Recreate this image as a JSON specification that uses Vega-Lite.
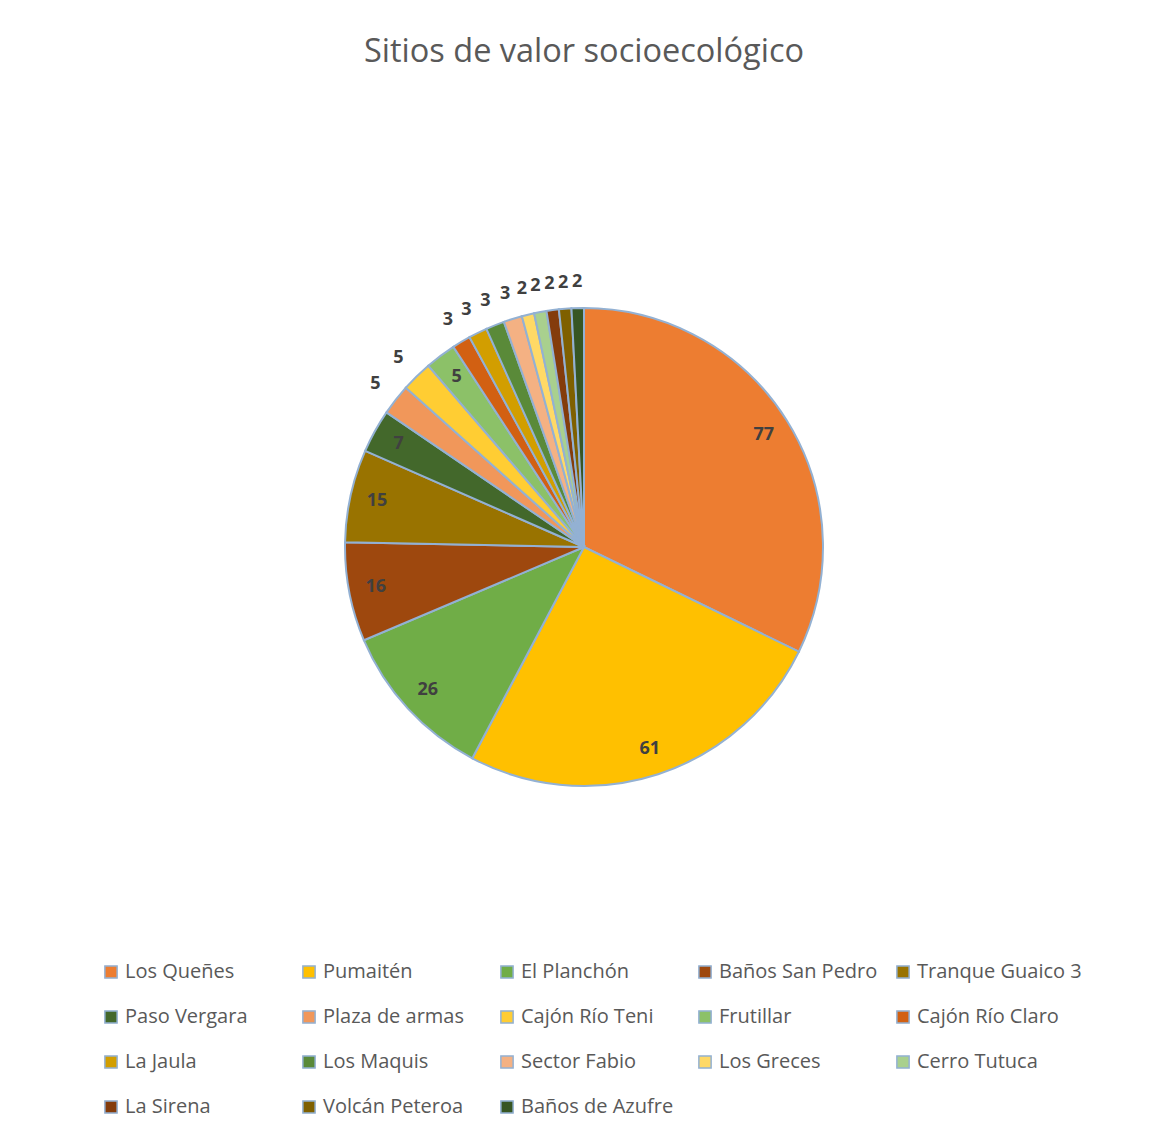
{
  "$schema": "https://vega.github.io/schema/vega-lite/v6.json",
  "autosize": "none",
  "padding": {"left": 0, "top": 0, "right": 3, "bottom": 41},
  "width": 1168,
  "height": 1094,
  "background": "white",
  "title": {
    "text": "Sitios de valor socioecológico",
    "orient": "top",
    "anchor": "middle",
    "frame": "group",
    "offset": -64,
    "dy": 30,
    "baseline": "alphabetic",
    "font": "Open Sans",
    "fontSize": 32.5,
    "fontWeight": "normal",
    "color": "#595959"
  },
  "data": {
    "values": [
      {"rank": 1, "name": "Los Queñes", "value": 77},
      {"rank": 2, "name": "Pumaitén", "value": 61},
      {"rank": 3, "name": "El Planchón", "value": 26},
      {"rank": 4, "name": "Baños San Pedro", "value": 16},
      {"rank": 5, "name": "Tranque Guaico 3", "value": 15},
      {"rank": 6, "name": "Paso Vergara", "value": 7},
      {"rank": 7, "name": "Plaza de armas", "value": 5},
      {"rank": 8, "name": "Cajón Río Teni", "value": 5},
      {"rank": 9, "name": "Frutillar", "value": 5},
      {"rank": 10, "name": "Cajón Río Claro", "value": 3},
      {"rank": 11, "name": "La Jaula", "value": 3},
      {"rank": 12, "name": "Los Maquis", "value": 3},
      {"rank": 13, "name": "Sector Fabio", "value": 3},
      {"rank": 14, "name": "Los Greces", "value": 2},
      {"rank": 15, "name": "Cerro Tutuca", "value": 2},
      {"rank": 16, "name": "La Sirena", "value": 2},
      {"rank": 17, "name": "Volcán Peteroa", "value": 2},
      {"rank": 18, "name": "Baños de Azufre", "value": 2}
    ]
  },
  "encoding": {
    "theta": {"field": "value", "type": "quantitative", "stack": true},
    "order": {"field": "rank", "type": "quantitative"}
  },
  "layer": [
    {
      "mark": {"type": "arc", "outerRadius": 239, "stroke": "#93B1D3", "strokeWidth": 2},
      "encoding": {
        "color": {
          "field": "name",
          "type": "nominal",
          "scale": {
            "domain": ["Los Queñes", "Pumaitén", "El Planchón", "Baños San Pedro", "Tranque Guaico 3", "Paso Vergara", "Plaza de armas", "Cajón Río Teni", "Frutillar", "Cajón Río Claro", "La Jaula", "Los Maquis", "Sector Fabio", "Los Greces", "Cerro Tutuca", "La Sirena", "Volcán Peteroa", "Baños de Azufre"],
            "range": ["#ED7D31", "#FFC000", "#70AD47", "#9E480E", "#997300", "#43682B", "#F1975A", "#FFCD33", "#8CC168", "#D26012", "#D29E00", "#5A8A39", "#F4B183", "#FFD966", "#A9D08E", "#843C0C", "#7F6000", "#375623"]
          },
          "legend": {
            "title": null,
            "orient": "none",
            "legendX": 101,
            "legendY": 962,
            "direction": "horizontal",
            "columns": 5,
            "gridAlign": "all",
            "columnPadding": 9,
            "rowPadding": 25,
            "symbolType": "square",
            "symbolSize": 150,
            "symbolStrokeColor": "#93B1D3",
            "symbolStrokeWidth": 1.5,
            "labelFont": "Open Sans",
            "labelFontSize": 20,
            "labelColor": "#595959",
            "labelOffset": 4,
            "labelLimit": 300
          }
        }
      }
    },
    {
      "mark": {"type": "text", "radius": 212, "font": "Open Sans", "fontSize": 18, "fontWeight": "bold", "color": "#404040"},
      "encoding": {
        "text": {"condition": {"test": "datum.value >= 7 || datum.name == 'Frutillar'", "field": "value", "type": "quantitative"}, "value": ""}
      }
    },
    {
      "mark": {"type": "text", "radius": 265, "font": "Open Sans", "fontSize": 18, "fontWeight": "bold", "color": "#404040"},
      "encoding": {
        "text": {"condition": {"test": "datum.value < 7 && datum.name != 'Frutillar'", "field": "value", "type": "quantitative"}, "value": ""}
      }
    }
  ],
  "config": {"view": {"stroke": null}}
}
